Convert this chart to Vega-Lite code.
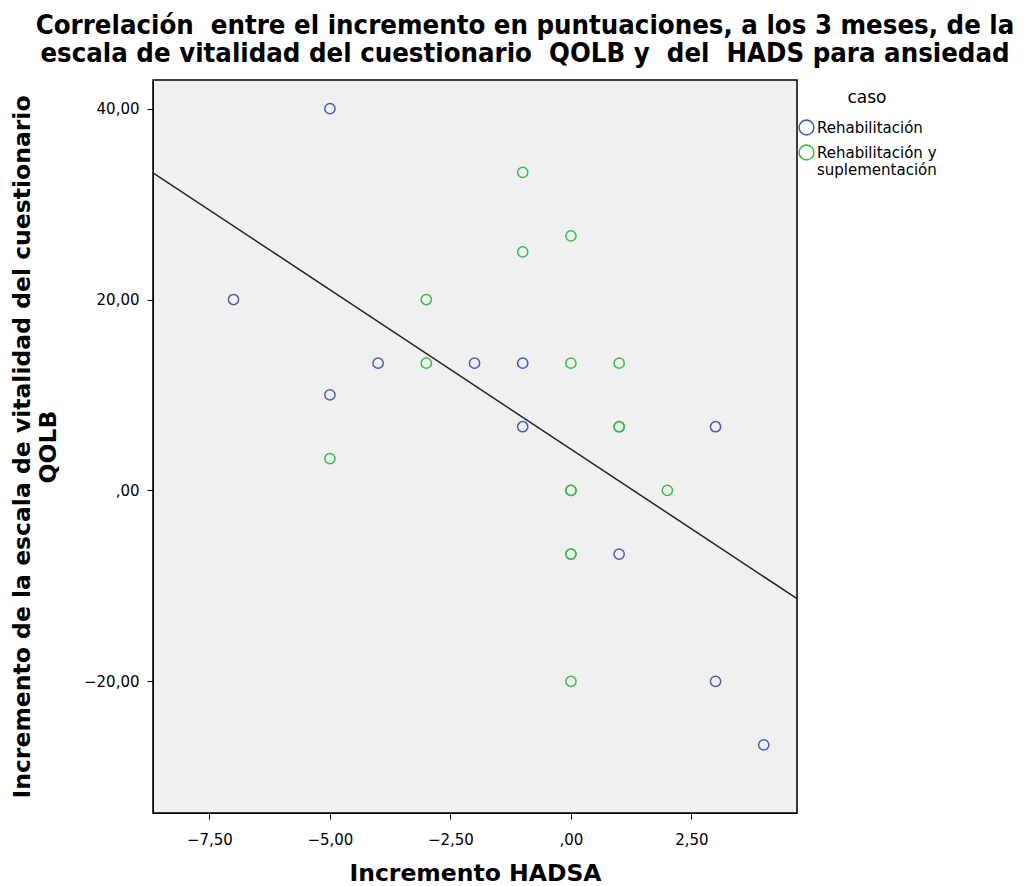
{
  "$schema": "https://vega.github.io/schema/vega-lite/v6.json",
  "autosize": {"type": "none"},
  "width": 644,
  "height": 733,
  "padding": {"left": 153, "top": 80, "right": 229, "bottom": 73},
  "background": "white",
  "title": {
    "text": ["Correlación\u00a0 entre el incremento en puntuaciones, a los 3 meses, de la", "escala de vitalidad del cuestionario\u00a0 QOLB y\u00a0 del\u00a0 HADS para ansiedad"],
    "font": "DejaVu Sans Condensed",
    "fontSize": 27.3,
    "fontWeight": "bold",
    "color": "black",
    "anchor": "middle",
    "dx": 50,
    "offset": 13,
    "lineHeight": 28
  },
  "config": {
    "view": {"fill": "#f0f0f0", "stroke": "black", "strokeWidth": 1.5},
    "axis": {
      "grid": false,
      "domainColor": "black",
      "tickColor": "black",
      "tickSize": 6,
      "labelFont": "DejaVu Sans",
      "labelFontSize": 15,
      "labelColor": "black",
      "titleFont": "DejaVu Sans",
      "titleFontSize": 23.5,
      "titleFontWeight": "bold",
      "titleColor": "black"
    }
  },
  "datasets": {
    "pts": [
      {"hadsa": -5, "qolb": 40, "caso": "Rehabilitación"},
      {"hadsa": -7, "qolb": 20, "caso": "Rehabilitación"},
      {"hadsa": -4, "qolb": 13.33, "caso": "Rehabilitación"},
      {"hadsa": -2, "qolb": 13.33, "caso": "Rehabilitación"},
      {"hadsa": -1, "qolb": 13.33, "caso": "Rehabilitación"},
      {"hadsa": -5, "qolb": 10, "caso": "Rehabilitación"},
      {"hadsa": -1, "qolb": 6.67, "caso": "Rehabilitación"},
      {"hadsa": 3, "qolb": 6.67, "caso": "Rehabilitación"},
      {"hadsa": 1, "qolb": -6.67, "caso": "Rehabilitación"},
      {"hadsa": 3, "qolb": -20, "caso": "Rehabilitación"},
      {"hadsa": 4, "qolb": -26.67, "caso": "Rehabilitación"},
      {"hadsa": -1, "qolb": 33.33, "caso": "Rehabilitación y suplementación"},
      {"hadsa": 0, "qolb": 26.67, "caso": "Rehabilitación y suplementación"},
      {"hadsa": -1, "qolb": 25, "caso": "Rehabilitación y suplementación"},
      {"hadsa": -3, "qolb": 20, "caso": "Rehabilitación y suplementación"},
      {"hadsa": -3, "qolb": 13.33, "caso": "Rehabilitación y suplementación"},
      {"hadsa": 0, "qolb": 13.33, "caso": "Rehabilitación y suplementación"},
      {"hadsa": 1, "qolb": 13.33, "caso": "Rehabilitación y suplementación"},
      {"hadsa": -5, "qolb": 3.33, "caso": "Rehabilitación y suplementación"},
      {"hadsa": 1, "qolb": 6.67, "caso": "Rehabilitación y suplementación"},
      {"hadsa": 1, "qolb": 6.67, "caso": "Rehabilitación y suplementación"},
      {"hadsa": 0, "qolb": 0, "caso": "Rehabilitación y suplementación"},
      {"hadsa": 0, "qolb": 0, "caso": "Rehabilitación y suplementación"},
      {"hadsa": 2, "qolb": 0, "caso": "Rehabilitación y suplementación"},
      {"hadsa": 0, "qolb": -6.67, "caso": "Rehabilitación y suplementación"},
      {"hadsa": 0, "qolb": -6.67, "caso": "Rehabilitación y suplementación"},
      {"hadsa": 0, "qolb": -20, "caso": "Rehabilitación y suplementación"}
    ],
    "fit": [
      {"hadsa": -8.67, "qolb": 33.28},
      {"hadsa": 4.69, "qolb": -11.34}
    ]
  },
  "layer": [
    {
      "data": {"name": "fit"},
      "mark": {"type": "line", "color": "#222222", "strokeWidth": 1.5, "clip": true},
      "encoding": {
        "x": {"field": "hadsa", "type": "quantitative"},
        "y": {"field": "qolb", "type": "quantitative"}
      }
    },
    {
      "data": {"name": "pts"},
      "mark": {"type": "point", "shape": "circle", "filled": false, "size": 105, "strokeWidth": 1.5, "opacity": 1},
      "encoding": {
        "x": {
          "field": "hadsa", "type": "quantitative",
          "scale": {"domain": [-8.67, 4.69], "nice": false, "zero": false},
          "axis": {
            "title": "Incremento HADSA",
            "values": [-7.5, -5, -2.5, 0, 2.5],
            "labelExpr": "datum.value == 0 ? ',00' : replace(format(datum.value, '.2f'), '.', ',')",
            "labelPadding": 13,
            "titlePadding": 14
          }
        },
        "y": {
          "field": "qolb", "type": "quantitative",
          "scale": {"domain": [-33.8, 43.0], "nice": false, "zero": false},
          "axis": {
            "title": ["Incremento de la escala de vitalidad del cuestionario", "QOLB"],
            "values": [-20, 0, 20, 40],
            "labelExpr": "datum.value == 0 ? ',00' : replace(format(datum.value, '.2f'), '.', ',')",
            "labelPadding": 8,
            "titlePadding": 23,
            "titleLineHeight": 26
          }
        },
        "color": {
          "field": "caso", "type": "nominal",
          "scale": {"domain": ["Rehabilitación", "Rehabilitación y suplementación"], "range": ["#4a5cba", "#3cba4c"]},
          "legend": {
            "title": "caso",
            "orient": "none",
            "legendX": 645,
            "legendY": 10,
            "titleFont": "DejaVu Sans",
            "titleFontSize": 17,
            "titleFontWeight": "normal",
            "titleColor": "black",
            "titleAnchor": "middle",
            "titlePadding": 12,
            "labelFont": "DejaVu Sans",
            "labelFontSize": 15,
            "labelColor": "black",
            "labelExpr": "datum.label == 'Rehabilitación y suplementación' ? ['Rehabilitación y', 'suplementación'] : datum.label",
            "labelLineHeight": 16,
            "symbolSize": 220,
            "symbolStrokeWidth": 1.6,
            "symbolType": "circle",
            "labelOffset": 2,
            "rowPadding": 2
          }
        }
      }
    }
  ]
}
